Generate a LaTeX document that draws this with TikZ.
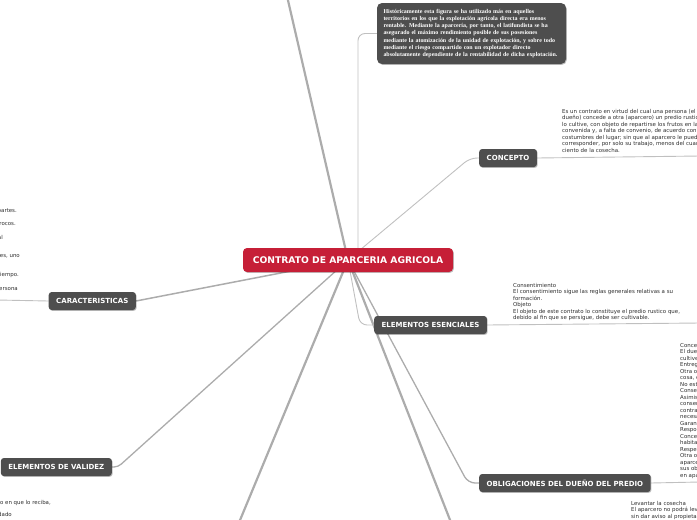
\documentclass[tikz,border=0pt]{standalone}
\usepackage{fontspec}
\setmainfont{DejaVu Sans}
\newfontfamily\serifnota{Liberation Serif}
\usetikzlibrary{backgrounds,shadows}
\definecolor{rojo}{RGB}{198,31,55}
\definecolor{gris}{RGB}{78,78,78}
\definecolor{rama}{RGB}{172,172,172}
\definecolor{ramita}{RGB}{192,192,192}
\definecolor{tinta}{RGB}{45,45,45}

\begin{document}
\begin{tikzpicture}[
 x=1pt,y=-1pt,
 every node/.style={inner sep=0pt},
 sombra/.style={drop shadow={shadow xshift=0.8pt,shadow yshift=-0.9pt,opacity=0.25,fill=black}},
 raizbox/.style={fill=rojo,rounded corners=4pt,text=white,sombra,
  font=\fontsize{9.2}{10}\selectfont\bfseries,minimum width=210pt,minimum height=24pt},
 tema/.style={fill=gris,rounded corners=3pt,text=white,sombra,
  font=\fontsize{7}{8}\selectfont\bfseries,inner xsep=7.5pt,minimum height=18pt},
 resena/.style={fill=gris,rounded corners=5pt,text=white,sombra,align=left,
  font=\serifnota\bfseries\fontsize{5.95}{7.2}\selectfont,
  text width=176pt,inner xsep=6.5pt,minimum height=61pt},
 nota/.style={align=left,text=tinta,font=\fontsize{5.45}{6.5}\selectfont},
 rama/.style={draw=rama,line width=2.2pt},
 ramita/.style={draw=ramita,line width=0.9pt,rounded corners=7pt}
]
 \useasboundingbox (0,0) rectangle (697,520);

 % central topic and main branches
 \node[raizbox] (raiz) at (348,260) {CONTRATO DE APARCERIA AGRICOLA};
 \node[resena] (historia) at (471.5,33.5)
  {Históricamente esta figura se ha utilizado más en aquellos\\
   territorios en los que la explotación agrícola directa era menos\\
   rentable. Mediante la aparcería, por tanto, el latifundista se ha\\
   asegurado el máximo rendimiento posible de sus posesiones\\
   mediante la atomización de la unidad de explotación, y sobre todo\\
   mediante el riesgo compartido con un explotador directo\\
   absolutamente dependiente de la rentabilidad de dicha explotación.};
 \node[tema,anchor=west] (concepto) at (479,158) {CONCEPTO};
 \node[tema,anchor=west] (esencial) at (374,325) {ELEMENTOS ESENCIALES};
 \node[tema,anchor=west] (obligacion) at (479,483) {OBLIGACIONES DEL DUEÑO DEL PREDIO};
 \node[tema,anchor=east] (caracter) at (136,301) {CARACTERISTICAS};
 \node[tema,anchor=east] (validez) at (112,467) {ELEMENTOS DE VALIDEZ};

 % loose ends leaving the page
 \coordinate (arriba) at (287,-4);
 \coordinate (abajoizq) at (238,525);
 \coordinate (abajoder) at (452,525);
 \coordinate (finconcepto) at (700,156);
 \coordinate (finesencial) at (700,323);
 \coordinate (finobligacion) at (700,482);
 \coordinate (fincaracter) at (-3,300);

 % notes
 \node[nota,anchor=north west] (txtconcepto) at (562,109)
  {Es un contrato en virtud del cual una persona (el\\
   dueño) concede a otra (aparcero) un predio rustico para que\\
   lo cultive, con objeto de repartirse los frutos en la forma\\
   convenida y, a falta de convenio, de acuerdo con las\\
   costumbres del lugar; sin que al aparcero le pueda\\
   corresponder, por solo su trabajo, menos del cuarenta por\\
   ciento de la cosecha.};
 \node[nota,anchor=north west] (txtesencial) at (513,283)
  {Consentimiento\\
   El consentimiento sigue las reglas generales relativas a su\\
   formación.\\
   Objeto\\
   El objeto de este contrato lo constituye el predio rustico que,\\
   debido al fin que se persigue, debe ser cultivable.};
 \node[nota,anchor=north west] (txtobligacion) at (680,343)
  {Conceder el uso del predio\\
   El dueño debe permitir que el aparcero lo\\
   cultive\\
   Entregar el predio\\
   Otra obligación es entregar la\\
   cosa, en estado de servir\\
   No estorbar el uso\\
   Conservar el predio\\
   Asimismo, debe\\
   conservar la cosa durante el\\
   contrato, haciendo las reparaciones\\
   necesarias\\
   Garantizar el uso pacífico\\
   Responder de los vicios\\
   Conceder al aparcero el derecho de\\
   habitación\\
   Respetar los derechos\\
   Otra obligación consiste en que el\\
   aparcero pueda cumplir\\
   sus obligaciones\\
   en aparcería};
 \node[nota,anchor=north west] (txtcosecha) at (631,501)
  {Levantar la cosecha\\
   El aparcero no podrá levantar la cosecha\\
   sin dar aviso al propietario};
 \foreach \y/\x/\linea [count=\i] in {
   211/17/{Bilateral: crea obligaciones para ambas partes.},
   224/16/{Oneroso: provechos y gravámenes recíprocos.},
   237/3/{Consensual: basta el acuerdo formal},
   256/20/{Aleatorio: las ganancias son inciertas para las partes, uno},
   275/19/{De tracto sucesivo: se cumple a través del tiempo.},
   289/18/{Intuitu personae: se celebra en atención a la persona}}
  \node[nota,anchor=east] (txtcaracter\i) at (\x,\y) {\linea};
 \node[nota,anchor=east] (txtvalidez1) at (51,503) {entregarlo en el mismo estado en que lo reciba,};
 \node[nota,anchor=east] (txtvalidez2) at (12,515) {según lo acordado};

 % connectors
 \begin{scope}[on background layer]
  \draw[rama] (raiz.center) -- (arriba);
  \draw[rama] (raiz.center) -- (abajoizq);
  \draw[rama] (raiz.center) -- (abajoder);
  \draw[rama,line width=1.5pt] (raiz.center) -- (caracter.east);
  \draw[rama,line width=1.3pt,rounded corners=4pt]
   (raiz.center) -- ([xshift=6pt]validez.east) -- (validez.east);
  \draw[rama,line width=1.3pt,rounded corners=7pt]
   (raiz.center) -- ([xshift=-11pt]obligacion.west) -- (obligacion.west);
  \draw[ramita] ([xshift=10pt]raiz.center) |- (historia.west);
  \draw[ramita] (raiz.center) -- ([xshift=-9pt]concepto.west) -- (concepto.west);
  \draw[ramita] (raiz.center) -- ([xshift=-14pt]esencial.west) -- (esencial.west);
  \draw[ramita] (concepto.east) -- (finconcepto);
  \draw[ramita] (esencial.east) -- (finesencial);
  \draw[ramita] (obligacion.east) -- (finobligacion);
  \draw[ramita] (caracter.west) -- (fincaracter);
 \end{scope}
\end{tikzpicture}
\end{document}
